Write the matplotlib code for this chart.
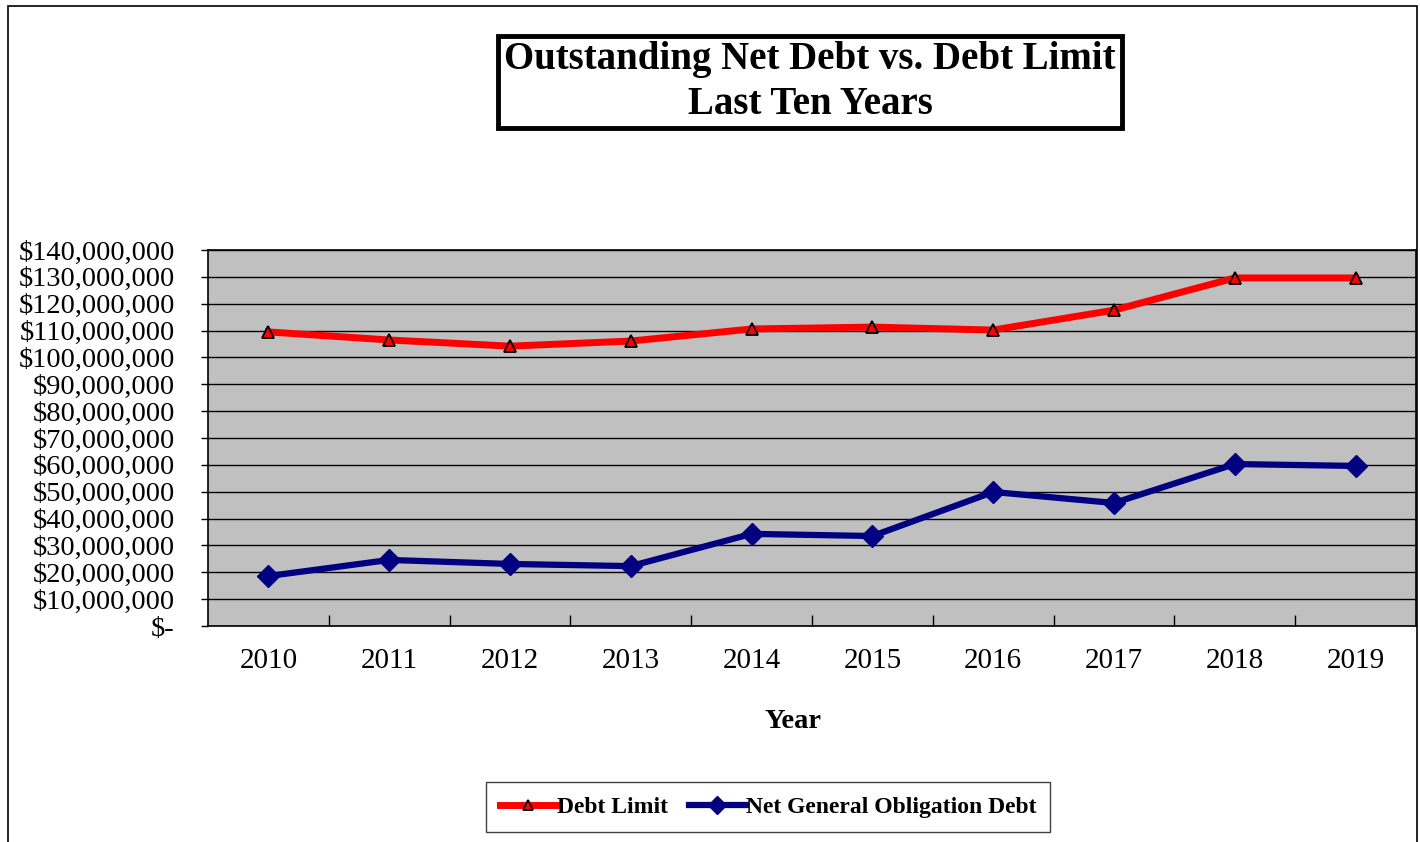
import numpy as np
import matplotlib.pyplot as plt
from matplotlib.patches import Rectangle
from matplotlib.ticker import FuncFormatter, FixedLocator

plt.rcParams['font.family'] = ['Liberation Serif', 'DejaVu Serif']

# data
years = ['2010', '2011', '2012', '2013', '2014', '2015', '2016', '2017', '2018', '2019']
debt_limit = [109.5, 106.5, 104.2, 106.1, 110.6, 111.3, 110.2, 117.6, 129.6, 129.6]  # millions
net_go_debt = [18.6, 24.6, 23.1, 22.3, 34.3, 33.5, 49.9, 45.8, 60.3, 59.6]  # millions
y_ticks = np.arange(0, 141, 10)

W, H = 1420, 842
fig = plt.figure(figsize=(W / 100, H / 100), dpi=100)

# outer chart frame
fig.patches.append(Rectangle((8 / W, -0.05), (1417 - 8) / W, 1 - 6 / H + 0.05,
                             transform=fig.transFigure, fill=False,
                             edgecolor='black', linewidth=1.2))

ax = fig.add_axes([208 / W, 1 - 626 / H, (1416 - 208) / W, (626 - 250) / H])
ax.set_facecolor('#C0C0C0')

x = np.arange(len(years))
ax.plot(x, np.array(debt_limit) * 1e6, color='#FF0000', linewidth=5, marker='^',
        markersize=9, markerfacecolor='#FF0000', markeredgecolor='black',
        markeredgewidth=1.3, label='Debt Limit', zorder=4)
ax.plot(x, np.array(net_go_debt) * 1e6, color='#000080', linewidth=4.5, marker='D',
        markersize=11, markerfacecolor='#000080', markeredgecolor='#000080',
        label='Net General Obligation Debt', zorder=3)

ax.set_xlim(-0.5, len(years) - 0.5)
ax.set_ylim(0, 140e6)
ax.set_yticks(y_ticks * 1e6)


def money(v, pos):
    if v == 0:
        return '$-'
    return '${:,.0f}'.format(v)


ax.yaxis.set_major_formatter(FuncFormatter(money))
ax.yaxis.grid(True, color='black', linewidth=1)
ax.set_axisbelow(True)
ax.tick_params(axis='y', direction='out', length=5, pad=19, labelsize=20.5, width=1)

ax.set_xticks(x)
ax.set_xticklabels(years)
ax.xaxis.set_minor_locator(FixedLocator(np.arange(0.5, len(years) - 1, 1)))
ax.tick_params(axis='x', which='major', length=0, pad=16, labelsize=21)
ax.tick_params(axis='x', which='minor', direction='in', length=8, width=1)

for s in ax.spines.values():
    s.set_color('black')
    s.set_linewidth(1.2)

fig.text(793 / W, 1 - 722 / H, 'Year', ha='center', va='center',
         fontsize=20.5, fontweight='bold')

fig.text(810 / W, 1 - 82 / H, 'Outstanding Net Debt vs. Debt Limit\nLast Ten Years',
         ha='center', va='center', fontsize=28, fontweight='bold', linespacing=1.25,
         bbox=dict(boxstyle='square,pad=0.15', facecolor='white',
                   edgecolor='black', linewidth=3.5))

leg = fig.legend(loc='center', bbox_to_anchor=(768 / W, 1 - 807 / H), ncol=2,
                 fancybox=False, edgecolor='#404040', framealpha=1,
                 prop={'family': 'Liberation Serif', 'weight': 'bold', 'size': 17},
                 handlelength=2.4, handletextpad=0.0, columnspacing=0.9,
                 borderpad=0.6, markerscale=0.8)
leg.get_frame().set_linewidth(1)

fig.savefig('out.png', dpi=100)
